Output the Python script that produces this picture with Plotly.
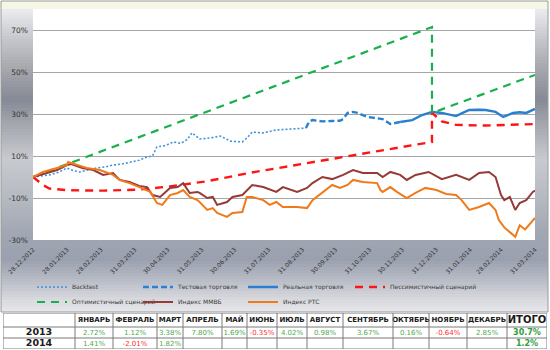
import plotly.graph_objects as go

# ---------------- data ----------------
backtest_dates = ["2012-12-28", "2013-01-06", "2013-01-12", "2013-01-20", "2013-01-28", "2013-02-03",
                  "2013-02-09", "2013-02-17", "2013-02-24", "2013-03-04", "2013-03-11", "2013-03-19",
                  "2013-03-26", "2013-04-04", "2013-04-11", "2013-04-16", "2013-04-20", "2013-04-28",
                  "2013-05-05", "2013-05-12", "2013-05-18", "2013-05-22", "2013-05-29", "2013-06-08",
                  "2013-06-17", "2013-06-26", "2013-07-07", "2013-07-12", "2013-07-16", "2013-07-26",
                  "2013-08-07", "2013-08-18", "2013-08-28", "2013-09-03"]
backtest_vals = [0, 0.5, 1.0, 2.2, 4.3, 3.0, 2.4, 3.5, 4.3, 4.8, 5.7, 6.2, 7.1, 8.0, 9.5, 10.0, 14.3, 15.0,
                 16.7, 16.0, 18.0, 21.0, 18.1, 18.6, 19.5, 17.1, 16.7, 19.0, 21.4, 21.0, 22.4, 22.8, 23.3, 23.3]

test_dates = ["2013-09-03", "2013-09-06", "2013-09-09", "2013-09-18", "2013-09-27", "2013-10-04",
              "2013-10-07", "2013-10-11", "2013-10-16", "2013-10-20", "2013-10-29", "2013-11-07",
              "2013-11-12", "2013-11-19", "2013-11-28"]
test_vals = [23.3, 26.5, 27.1, 26.5, 26.7, 26.8, 27.6, 30.5, 31.0, 30.5, 28.6, 28.0, 27.6, 25.2, 26.2]

real_dates = ["2013-11-28", "2013-12-04", "2013-12-09", "2013-12-18", "2013-12-27", "2014-01-05",
              "2014-01-12", "2014-01-18", "2014-01-24", "2014-01-30", "2014-02-08", "2014-02-14",
              "2014-02-23", "2014-03-02", "2014-03-11", "2014-03-17", "2014-03-23", "2014-03-31"]
real_vals = [26.2, 26.5, 27.1, 29.5, 31.0, 30.5, 29.5, 29.0, 30.5, 31.9, 32.0, 31.9, 31.0, 28.6, 30.5,
             30.8, 30.5, 32.4]

pess_dates = ["2012-12-28", "2013-01-06", "2013-01-12", "2013-01-28", "2013-03-02", "2013-04-04",
              "2013-05-02", "2013-06-05", "2013-07-14", "2013-08-28", "2013-10-07", "2013-11-19",
              "2013-12-27", "2013-12-27", "2014-01-05", "2014-01-18", "2014-02-14", "2014-03-31"]
pess_vals = [0, -3.8, -5.5, -6.3, -6.5, -6.0, -4.5, -2.0, 2.0, 6.0, 9.8, 13.3, 16.7, 30.5, 26.5, 24.8,
             24.5, 25.2]

opt_dates = ["2012-12-28", "2013-12-27", "2013-12-27", "2014-03-31"]
opt_vals = [0, 71.4, 30.5, 48.6]

micex_dates = ["2012-12-28", "2013-01-06", "2013-01-19", "2013-01-28", "2013-02-01", "2013-02-11",
               "2013-02-21", "2013-03-02", "2013-03-11", "2013-03-17", "2013-03-26", "2013-04-04",
               "2013-04-11", "2013-04-16", "2013-04-23", "2013-05-02", "2013-05-09", "2013-05-14",
               "2013-05-20", "2013-05-27", "2013-05-29", "2013-06-05", "2013-06-10", "2013-06-14",
               "2013-06-23", "2013-06-28", "2013-07-07", "2013-07-16", "2013-07-26", "2013-08-07",
               "2013-08-13", "2013-08-26", "2013-09-04", "2013-09-09", "2013-09-18", "2013-09-27",
               "2013-10-07", "2013-10-16", "2013-10-25", "2013-11-07", "2013-11-12", "2013-11-19",
               "2013-11-28", "2013-12-04", "2013-12-12", "2013-12-24", "2014-01-05", "2014-01-18",
               "2014-01-30", "2014-02-08", "2014-02-17", "2014-02-23", "2014-02-28", "2014-03-03",
               "2014-03-08", "2014-03-13", "2014-03-17", "2014-03-23", "2014-03-29", "2014-03-31"]
micex_vals = [0, 1.4, 3.3, 5.7, 6.2, 4.3, 3.3, 1.0, 1.9, -1.4, -2.4, -4.3, -4.8, -8.6, -9.5, -5.2, -4.8,
              -2.9, -7.6, -7.1, -7.6, -10.0, -9.5, -13.3, -11.9, -9.5, -8.6, -3.8, -4.8, -7.1, -4.8, -7.1,
              -5.2, -2.9, 0.0, -1.0, 1.0, 3.3, 1.9, 1.9, 0.0, 2.4, 1.0, -1.4, 1.0, 2.4, -1.0, 1.0, -1.4,
              1.9, 2.4, 0.0, -8.6, -11.0, -9.5, -15.7, -12.4, -11.0, -7.1, -6.5]

rts_dates = ["2012-12-28", "2013-01-06", "2013-01-19", "2013-01-28", "2013-01-29", "2013-02-06",
             "2013-02-15", "2013-02-27", "2013-03-11", "2013-03-17", "2013-03-26", "2013-04-04",
             "2013-04-14", "2013-04-20", "2013-04-25", "2013-05-02", "2013-05-09", "2013-05-14",
             "2013-05-20", "2013-05-27", "2013-05-29", "2013-06-05", "2013-06-10", "2013-06-14",
             "2013-06-23", "2013-06-28", "2013-07-07", "2013-07-11", "2013-07-16", "2013-07-26",
             "2013-08-01", "2013-08-07", "2013-08-13", "2013-08-26", "2013-09-04", "2013-09-09",
             "2013-09-18", "2013-09-27", "2013-10-04", "2013-10-11", "2013-10-16", "2013-10-25",
             "2013-11-07", "2013-11-10", "2013-11-12", "2013-11-19", "2013-11-25", "2013-12-04",
             "2013-12-12", "2013-12-21", "2013-12-31", "2014-01-09", "2014-01-18", "2014-01-23",
             "2014-01-30", "2014-02-08", "2014-02-17", "2014-02-23", "2014-02-26", "2014-03-03",
             "2014-03-13", "2014-03-17", "2014-03-22", "2014-03-31"]
rts_vals = [0, 2.4, 4.3, 5.7, 7.1, 5.7, 4.3, 3.3, 1.0, -1.4, -2.9, -4.8, -7.1, -12.4, -13.3, -8.6, -7.6,
            -6.2, -9.5, -11.0, -11.9, -15.7, -14.8, -17.1, -19.0, -17.1, -16.7, -9.5, -9.5, -11.0, -13.3,
            -11.9, -14.3, -14.3, -14.8, -11.0, -7.6, -3.8, -5.2, -3.8, -1.4, -2.4, -2.9, -6.2, -7.1, -4.8,
            -7.1, -10.0, -7.6, -5.2, -6.2, -8.1, -8.6, -11.0, -15.7, -14.3, -12.4, -15.7, -20.5, -24.0,
            -28.5, -23.0, -25.0, -19.5]

tick_dates = ["2012-12-28", "2013-01-28", "2013-02-28", "2013-03-31", "2013-04-30", "2013-05-31",
              "2013-06-30", "2013-07-31", "2013-08-31", "2013-09-30", "2013-10-31", "2013-11-30",
              "2013-12-31", "2014-01-31", "2014-02-28", "2014-03-31"]
tick_labels = ["28.12.2012", "28.01.2013", "28.02.2013", "31.03.2013", "30.04.2013", "31.05.2013",
               "30.06.2013", "31.07.2013", "31.08.2013", "30.09.2013", "31.10.2013", "30.11.2013",
               "31.12.2013", "31.01.2014", "28.02.2014", "31.03.2014"]
y_ticks = [-30, -10, 10, 30, 50, 70]

months = ["ЯНВАРЬ", "ФЕВРАЛЬ", "МАРТ", "АПРЕЛЬ", "МАЙ", "ИЮНЬ", "ИЮЛЬ", "АВГУСТ",
          "СЕНТЯБРЬ", "ОКТЯБРЬ", "НОЯБРЬ", "ДЕКАБРЬ"]
ret_2013 = [2.72, 1.12, 3.38, 7.80, 1.69, -0.35, 4.02, 0.98, 3.67, 0.16, -0.64, 2.85]
ret_2014 = [1.41, -2.01, 1.82]
total_2013 = 30.7
total_2014 = 1.2
years = ["2013", "2014"]

# ---------------- layout geometry (pixels) ----------------
W, H = 550, 350
ML, MR, MT, MB = 3, 3, 1, 1
PW = W - ML - MR
PH = H - MT - MB
col_edges = [3, 75, 113, 157, 183, 222, 247, 277, 307, 343, 393, 429, 467, 507, 547]
row_edges = [313, 327, 338, 349]
# legend item text start (x px) and row centre (y px)
legend_pos = [(72, 287), (178, 287), (283, 287), (390, 287), (72, 302), (178, 302), (283, 302)]


def fx(x):
    return (x - ML) / PW


def fy(y):
    return (H - MB - y) / PH


fig = go.Figure()

series = [
    ("Backtest", backtest_dates, backtest_vals, "#3d93de", 1.6, "2px,2px"),
    ("Тестовая торговля", test_dates, test_vals, "#2a80d2", 2.4, "6px,3px"),
    ("Реальная торговля", real_dates, real_vals, "#2a7fd0", 2.4, "solid"),
    ("Пессимистичный сценарий", pess_dates, pess_vals, "#ff1414", 2.4, "8px,6px"),
    ("Оптимистичный сценарий", opt_dates, opt_vals, "#19b04c", 2.2, "8px,6px"),
    ("Индекс ММВБ", micex_dates, micex_vals, "#963a36", 2.0, "solid"),
    ("Индекс РТС", rts_dates, rts_vals, "#f07a1a", 2.0, "solid"),
]
legend_layout = {}
for k, (name, xs, ys, col, w, dash) in enumerate(series):
    lname = "legend" if k == 0 else f"legend{k + 1}"
    fig.add_trace(go.Scatter(x=xs, y=ys, name=name, mode="lines",
                             line=dict(color=col, width=w, dash=dash),
                             legend=lname, hoverinfo="skip"))
    lx, ly = legend_pos[k]
    legend_layout[lname] = dict(x=fx(lx - 40), y=fy(ly), orientation="h", xanchor="left",
                                yanchor="middle", bgcolor="rgba(0,0,0,0)", borderwidth=0,
                                itemwidth=30,
                                font=dict(family="DejaVu Sans", size=6, color="#3a3a3a"))

# ---------------- table (text trace on its own pixel-unit axes) ----------------
def fmt(v, d=2):
    return f"{v:.{d}f}%"

green, red, dark = "#4eaa4e", "#ff2f2f", "#1a1a1a"
centers = [(a + b) / 2 for a, b in zip(col_edges[:-1], col_edges[1:])]
rc = [(a + b) / 2 + 0.5 for a, b in zip(row_edges[:-1], row_edges[1:])]
tx, ty, tt, tcol, tsz = [], [], [], [], []
for i, m in enumerate(months):
    tx.append(centers[i + 1]); ty.append(rc[0]); tt.append("<b>" + m + "</b>"); tcol.append(dark); tsz.append(7)
tx.append(centers[13]); ty.append(rc[0]); tt.append("<b>ИТОГО</b>"); tcol.append(dark); tsz.append(10)
for r, (yr, vals, tot) in enumerate([(years[0], ret_2013, total_2013), (years[1], ret_2014, total_2014)]):
    tx.append(centers[0]); ty.append(rc[r + 1]); tt.append("<b>" + yr + "</b>"); tcol.append(dark); tsz.append(9.5)
    for i, v in enumerate(vals):
        tx.append(centers[i + 1]); ty.append(rc[r + 1]); tt.append(fmt(v))
        tcol.append(green if v >= 0 else red); tsz.append(7)
    tx.append(centers[13]); ty.append(rc[r + 1]); tt.append("<b>" + fmt(tot, 1) + "</b>")
    tcol.append("#2e9e3e"); tsz.append(8)

fig.add_trace(go.Scatter(x=tx, y=ty, text=tt, mode="text", xaxis="x2", yaxis="y2",
                         textfont=dict(family="DejaVu Sans", color=tcol, size=tsz),
                         showlegend=False, hoverinfo="skip"))

# ---------------- background gradient shapes ----------------
stops = [(9, (236, 236, 240)), (40, (196, 198, 204)), (70, (164, 166, 172)), (100, (134, 138, 150)),
         (125, (166, 168, 176)), (160, (200, 202, 208)), (200, (180, 184, 192)), (235, (160, 166, 178)),
         (260, (154, 160, 174)), (280, (184, 188, 198)), (300, (216, 218, 223)), (312, (230, 230, 234))]


def col_at(y):
    for (y0, c0), (y1, c1) in zip(stops[:-1], stops[1:]):
        if y0 <= y <= y1:
            t = (y - y0) / (y1 - y0)
            return "rgb(%d,%d,%d)" % tuple(round(a + (b - a) * t) for a, b in zip(c0, c1))
    return "rgb(230,230,234)"


shapes = [dict(type="rect", xref="paper", yref="paper", x0=fx(1), x1=fx(548), y0=fy(9), y1=fy(1),
               fillcolor="#f6f6e6", line=dict(width=0), layer="below")]
y = 9
while y < 312:
    y2 = min(y + 3, 312)
    shapes.append(dict(type="rect", xref="paper", yref="paper", x0=fx(1), x1=fx(548),
                       y0=fy(y2), y1=fy(y), fillcolor=col_at((y + y2) / 2),
                       line=dict(width=0), layer="below"))
    y = y2
shapes.append(dict(type="rect", xref="paper", yref="paper", x0=fx(33), x1=fx(535), y0=fy(240), y1=fy(9),
                   fillcolor="white", line=dict(width=0), layer="below"))
shapes.append(dict(type="rect", xref="paper", yref="paper", x0=fx(1), x1=fx(548), y0=fy(312), y1=fy(1),
                   fillcolor="rgba(0,0,0,0)", line=dict(color="#9a9a9a", width=1), layer="below"))
# table grid
for xe in col_edges:
    shapes.append(dict(type="line", xref="x2", yref="y2", x0=xe, x1=xe, y0=row_edges[0], y1=row_edges[-1],
                       line=dict(color="#7a7a7a", width=1)))
for ye in row_edges:
    shapes.append(dict(type="line", xref="x2", yref="y2", x0=col_edges[0], x1=col_edges[-1], y0=ye, y1=ye,
                       line=dict(color="#7a7a7a", width=1)))

fig.update_layout(
    template="none",
    width=W, height=H,
    margin=dict(l=ML, r=MR, t=MT, b=MB, pad=0, autoexpand=False),
    paper_bgcolor="white", plot_bgcolor="rgba(0,0,0,0)",
    shapes=shapes,
    showlegend=True,
    xaxis=dict(type="date", domain=[fx(33), fx(535)], range=["2012-12-28", "2014-03-31"],
               tickvals=tick_dates, ticktext=tick_labels, tickangle=-45, showgrid=False,
               zeroline=False, showline=False, ticks="", ticklabelstandoff=4, automargin=False,
               tickfont=dict(family="DejaVu Sans", size=6, color="#333333")),
    yaxis=dict(domain=[fy(240), fy(9)], range=[-30, 80], tickvals=y_ticks,
               ticktext=[f"{v}%" for v in y_ticks], showgrid=True, gridcolor="#a6a6a6", gridwidth=1,
               zeroline=False, showline=False, ticks="", ticklabelstandoff=4, automargin=False,
               tickfont=dict(family="DejaVu Sans", size=7.5, color="#333333")),
    xaxis2=dict(domain=[0, 1], range=[ML, W - MR], visible=False, fixedrange=True, anchor="y2"),
    yaxis2=dict(domain=[0, fy(313)], range=[349, 313], visible=False, fixedrange=True, anchor="x2"),
    **legend_layout,
)

fig.write_html("out.html")
